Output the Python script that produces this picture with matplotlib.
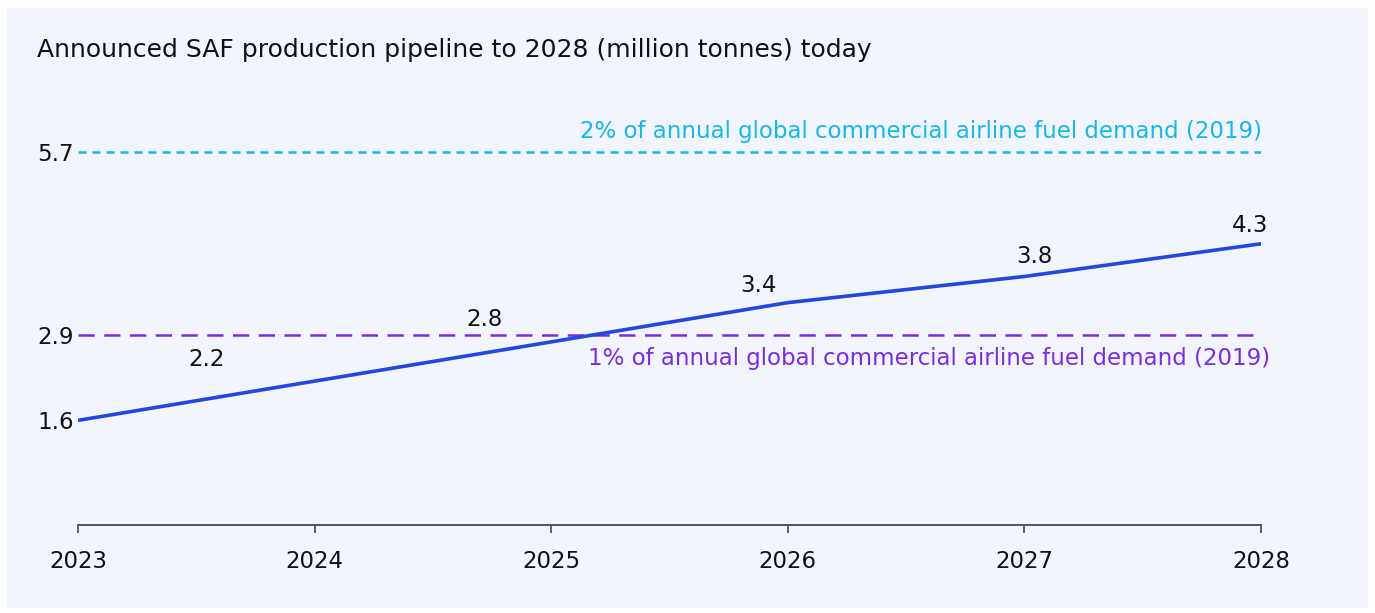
import matplotlib
matplotlib.use("Agg")
import matplotlib.pyplot as plt
from matplotlib.patches import Rectangle

# ---- data ----
years = [2023, 2024, 2025, 2026, 2027, 2028]
pipeline = [1.6, 2.2, 2.8, 3.4, 3.8, 4.3]
ref_values = [5.7, 2.9]
ref_labels = ["2% of annual global commercial airline fuel demand (2019)",
              "1% of annual global commercial airline fuel demand (2019)"]
ytick_values = [1.6, 2.9, 5.7]
title = "Announced SAF production pipeline to 2028 (million tonnes) today"

plt.rcParams['font.family'] = ['DejaVu Sans']

W, H = 1375, 613
fig = plt.figure(figsize=(W / 100, H / 100), dpi=100, facecolor="white")
bg = "#f2f5fd"
fig.patches.append(Rectangle((7 / W, 1 - 608 / H), (1368 - 7) / W, (608 - 8) / H,
                             transform=fig.transFigure, facecolor=bg,
                             edgecolor="none", zorder=-10))

left, right = 78, 1261
bottom_px, top_px = 525, 125
ax = fig.add_axes([left / W, 1 - bottom_px / H, (right - left) / W, (bottom_px - top_px) / H])
ax.set_facecolor("none")
ax.set_xlim(2023, 2028)
ymax = (bottom_px - top_px) / 65.4
ax.set_ylim(0, ymax)

cyan = "#14b8ef"
purple = "#7b2be6"
blue = "#2447e0"
FS = 16.5

# reference lines
ax.hlines(ref_values[0], years[0], years[-1], colors=cyan, linestyles=(0, (3.2, 2.4)), lw=1.8)
ax.hlines(ref_values[1], years[0], years[-1], colors=purple, linestyles=(0, (6.5, 3.8)), lw=1.8)

# main line
ax.plot(years, pipeline, color=blue, lw=2.6, solid_capstyle="butt", zorder=3)

# value labels
offsets = [None, (-108, 22), (-67, 22), (-29, 17), (10, 20), (-11, 18)]
for x, v, off in zip(years, pipeline, offsets):
    if off is None:
        continue
    ax.annotate(f"{v}", (x, v), xytext=off, textcoords="offset pixels",
                ha="center", va="center", fontsize=FS, color="#111111")

# reference line labels
ax.annotate(ref_labels[0], (years[-1], ref_values[0]), xytext=(1, 21),
            textcoords="offset pixels", ha="right", va="center",
            fontsize=FS, color=cyan)
ax.annotate(ref_labels[1], (years[-1], ref_values[1]), xytext=(9, -23),
            textcoords="offset pixels", ha="right", va="center",
            fontsize=FS, color=purple)

# axes styling
for s in ["top", "right", "left"]:
    ax.spines[s].set_visible(False)
ax.spines["bottom"].set_color("#555555")
ax.spines["bottom"].set_linewidth(1.4)
ax.set_xticks(years)
ax.set_xticklabels([str(y) for y in years])
ax.tick_params(axis="x", direction="out", length=6, width=1.3, color="#555555",
               pad=12, labelsize=FS, labelcolor="#111111")
ax.set_yticks(ytick_values)
ax.set_yticklabels([str(v) for v in ytick_values])
ax.tick_params(axis="y", length=0, pad=3, labelsize=FS, labelcolor="#111111")

fig.text(37 / W, 1 - 50 / H, title, ha="left", va="center", fontsize=18, color="#111111")

fig.savefig("out.png", dpi=100, facecolor="white")
